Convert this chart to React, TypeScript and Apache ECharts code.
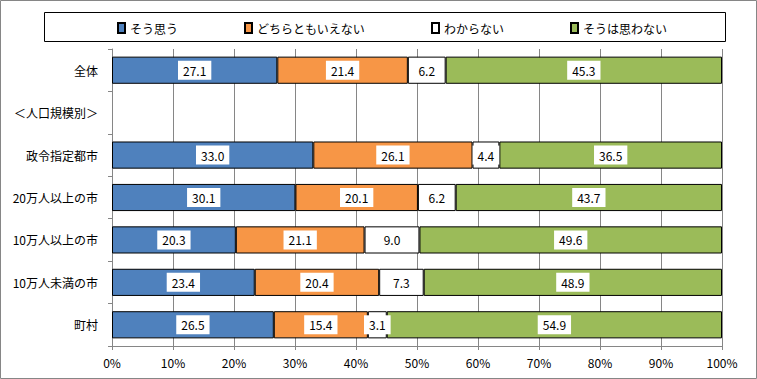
import React, { useEffect, useRef } from "react";
import * as echarts from "echarts";

const categories = ["全体", "＜人口規模別＞", "政令指定都市", "20万人以上の市", "10万人以上の市", "10万人未満の市", "町村"];
const seriesNames = ["そう思う", "どちらともいえない", "わからない", "そうは思わない"];
const souOmou = [27.1, null, 33.0, 30.1, 20.3, 23.4, 26.5];
const dochiraTomo = [21.4, null, 26.1, 20.1, 21.1, 20.4, 15.4];
const wakaranai = [6.2, null, 4.4, 6.2, 9.0, 7.3, 3.1];
const souWaOmowanai = [45.3, null, 36.5, 43.7, 49.6, 48.9, 54.9];
const colors = ["#4F81BD", "#F79646", "#FFFFFF", "#9BBB59"];
const xTicks = [0, 10, 20, 30, 40, 50, 60, 70, 80, 90, 100];

const FONT = "'Noto Sans CJK JP', 'Noto Sans', sans-serif";

export default function App() {
  const ref = useRef<HTMLDivElement>(null);
  useEffect(() => {
    if (!ref.current) return;
    const chart = echarts.init(ref.current, null, { renderer: "svg" });
    const all = [souOmou, dochiraTomo, wakaranai, souWaOmowanai];
    const sums = categories.map((_, i) =>
      all.reduce((s, arr) => s + (arr[i] == null ? 0 : (arr[i] as number)), 0)
    );
    const series = all.map((arr, si) => ({
      name: seriesNames[si],
      type: "bar",
      stack: "total",
      barWidth: "64%",
      itemStyle: { color: colors[si], borderColor: "#000", borderWidth: 1 },
      label: {
        show: true,
        position: "inside",
        color: "#000",
        fontSize: 12,
        fontFamily: FONT,
        backgroundColor: "#fff",
        padding: [4, 5, 3, 5],
        formatter: (p: any) => (arr[p.dataIndex] == null ? "" : (arr[p.dataIndex] as number).toFixed(1)),
      },
      data: arr.map((v, i) => (v == null ? "-" : (v / sums[i]) * 100)),
    }));
    chart.setOption({
      animation: false,
      textStyle: { fontFamily: FONT },
      graphic: [
        {
          type: "rect",
          shape: { x: 0.5, y: 0.5, width: 756, height: 378 },
          style: { fill: "none", stroke: "#868686", lineWidth: 1 },
          silent: true,
        },
        {
          type: "rect",
          shape: { x: 44.5, y: 12.5, width: 681, height: 29 },
          style: { fill: "none", stroke: "#000", lineWidth: 1 },
          silent: true,
        },
      ],
      legend: {
        left: 112,
        top: 17,
        itemGap: 66,
        itemWidth: 7,
        itemHeight: 10,
        icon: "rect",
        textStyle: { fontSize: 12, color: "#000", fontFamily: FONT },
        data: seriesNames,
      },
      grid: { left: 112, right: 35, top: 49, bottom: 33 },
      xAxis: {
        type: "value",
        min: 0,
        max: 100,
        interval: 10,
        axisLine: { show: true, lineStyle: { color: "#868686" } },
        axisTick: { show: true, length: 4, lineStyle: { color: "#868686" } },
        axisLabel: {
          formatter: (v: number) => (xTicks.includes(v) ? v + "%" : ""),
          color: "#000",
          fontSize: 12,
          fontFamily: FONT,
          margin: 10,
        },
        splitLine: { show: true, lineStyle: { color: "#868686", width: 1 } },
      },
      yAxis: {
        type: "category",
        inverse: true,
        data: categories,
        axisLine: { show: true, lineStyle: { color: "#868686" } },
        axisTick: { show: true, length: 4, lineStyle: { color: "#868686" } },
        axisLabel: { color: "#000", fontSize: 12, fontFamily: FONT, margin: 14 },
      },
      series,
    });
    return () => chart.dispose();
  }, []);
  return (
    <div
      ref={ref}
      style={{ position: "absolute", left: 0, top: 0, width: 757, height: 379, background: "#fff" }}
    />
  );
}
